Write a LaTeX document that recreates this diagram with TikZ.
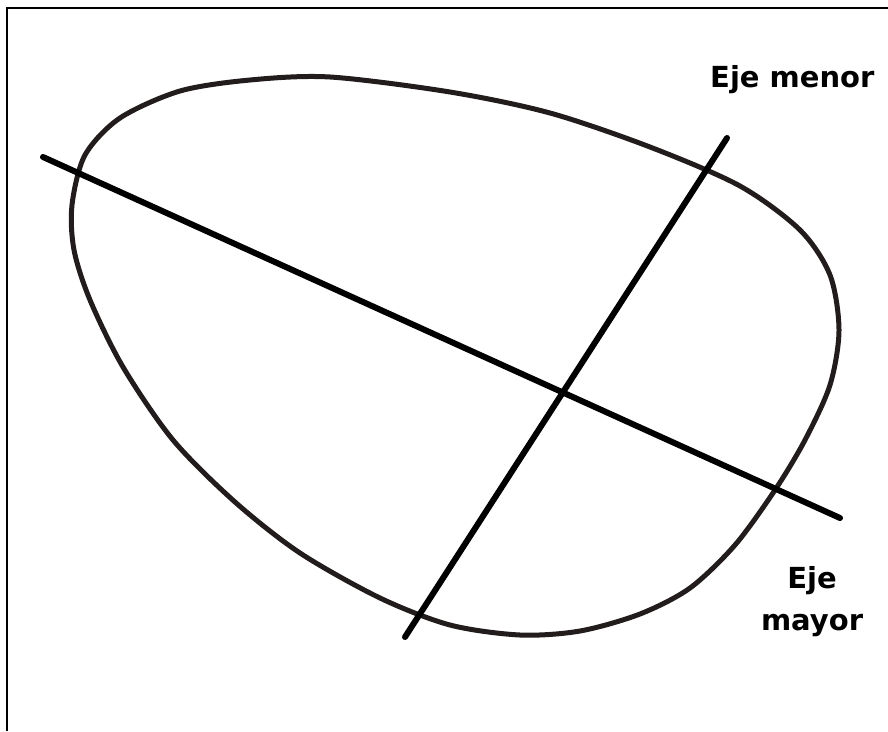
\documentclass[tikz,border=0pt]{standalone}
\usepackage{fontspec}
\setmainfont{DejaVu Sans}
\usepackage{tikz}
\usetikzlibrary{positioning}

\definecolor{contorno}{RGB}{35,28,28}

\begin{document}
\begin{tikzpicture}[
    x=1pt, y=-1pt,
    marco/.style={line width=2pt, black},
    ovalo/.style={line width=5pt, contorno, line join=round},
    eje/.style={line width=6pt, black, line cap=round},
    etiqueta/.style={font=\fontsize{29}{42}\selectfont\bfseries, inner sep=0pt, align=center},
]
\useasboundingbox (0,0) rectangle (888,731);

% ========== MARCO (solo lados superior e izquierdo) ==========
\coordinate (m_sup) at (888,8);
\coordinate (m_esq) at (7,8);
\coordinate (m_inf) at (7,731);
\draw[marco] (m_sup) -- (m_esq) -- (m_inf);

% ========== OVALO ==========
\draw[ovalo] plot[smooth cycle, tension=0.5] coordinates {
    (72,205) (85,155) (120,118) (180,91) (250,80) (330,77) (450,92)
    (550,113) (650,147) (740,186) (800,230) (830,275) (839,330) (830,385)
    (805,440) (775,490) (735,545) (690,588) (640,614) (580,631) (520,635)
    (450,625) (380,598) (300,553) (235,502) (173,440) (123,367) (90,300)
    (74,250)};

% ========== EJES ==========
\coordinate (may_a) at (43,157);
\coordinate (may_b) at (840,518);
\coordinate (men_a) at (727,138);
\coordinate (men_b) at (405,637);
\draw[eje] (may_a) -- (may_b);
\draw[eje] (men_a) -- (men_b);

% ========== ETIQUETAS ==========
\node[etiqueta, anchor=base west] at (710,87) (lbl_menor) {Eje menor};
\node[etiqueta, anchor=north] at (812,566) (lbl_mayor) {Eje\\mayor};

\end{tikzpicture}
\end{document}
